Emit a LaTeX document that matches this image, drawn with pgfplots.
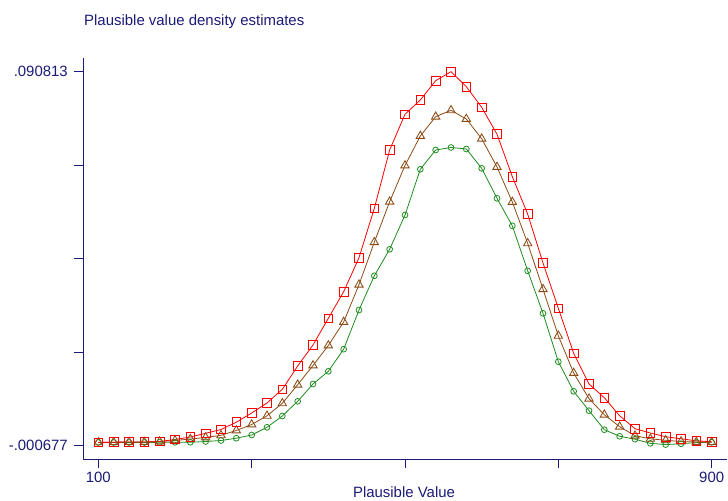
\documentclass[border=0pt]{standalone}
\usepackage{fontspec}
\setmainfont{Liberation Sans}
\usepackage{pgfplots}
\usepackage{pgfplotstable}
\pgfplotsset{compat=1.18}
\definecolor{navy}{RGB}{26,26,120}
\definecolor{pvred}{RGB}{255,0,0}
\definecolor{pvbrown}{RGB}{140,75,20}
\definecolor{pvgreen}{RGB}{30,140,30}

\pgfplotstableread{
x y
100 0.000057
120 0.000131
140 0.000180
160 0.000180
180 0.000302
200 0.000792
220 0.001403
240 0.002309
260 0.003239
280 0.005026
300 0.007278
320 0.009725
340 0.013079
360 0.018781
380 0.023921
400 0.030456
420 0.036967
440 0.045289
460 0.057380
480 0.071650
500 0.080388
520 0.083888
540 0.088612
560 0.090813
580 0.087143
600 0.082101
620 0.075517
640 0.065115
660 0.055985
680 0.043992
700 0.032904
720 0.021890
740 0.014376
760 0.011023
780 0.006592
800 0.003435
820 0.002383
840 0.001477
860 0.000963
880 0.000473
900 0.000253
}\redtable

\pgfplotstableread{
x y
100 0.000106
120 0.000131
140 0.000180
160 0.000180
180 0.000302
200 0.000547
220 0.000914
240 0.001281
260 0.001820
280 0.002994
300 0.004463
320 0.006592
340 0.009652
360 0.014205
380 0.018904
400 0.023799
420 0.029551
440 0.038680
460 0.049083
480 0.058995
500 0.067856
520 0.075076
540 0.079800
560 0.081367
580 0.079237
600 0.074416
620 0.067490
640 0.058922
660 0.048814
680 0.037579
700 0.026173
720 0.017068
740 0.010778
760 0.006862
780 0.003924
800 0.001722
820 0.000963
840 0.000596
860 0.000302
880 0.000180
900 0.000131
}\browntable

\pgfplotstableread{
x y
100 0.000057
120 0.000057
140 0.000057
160 0.000057
180 0.000106
200 0.000106
220 0.000106
240 0.000302
260 0.000547
280 0.001110
300 0.001893
320 0.003778
340 0.006543
360 0.010141
380 0.014376
400 0.017484
420 0.022893
440 0.032488
460 0.040858
480 0.047345
500 0.055740
520 0.066927
540 0.071650
560 0.072262
580 0.071895
600 0.067170
620 0.059827
640 0.053097
660 0.042082
680 0.031680
700 0.019834
720 0.012589
740 0.007841
760 0.003190
780 0.001575
800 0.000865
820 -0.000150
840 -0.000450
860 -0.000250
880 0.000050
900 0.000120
}\greentable

\begin{document}
\begin{tikzpicture}
\useasboundingbox (-83.3bp,-41.7bp) rectangle (644.7bp,459.3bp);
\begin{axis}[
  scale only axis,
  width=643.7bp, height=401.3bp,
  xmin=80.4, xmax=920,
  ymin=-0.004055, ymax=0.094166,
  axis lines*=left,
  axis line style={-, draw=navy, line width=0.9bp},
  xtick={100,300,500,700,900},
  xticklabels={100,,,,900},
  ytick={-0.000677,0.0221955,0.045068,0.0679405,0.090813},
  yticklabels={-.000677,,,,.090813},
  scaled y ticks=false, scaled x ticks=false,
  tick align=outside,
  major tick length=9bp,
  tick style={draw=navy, line width=0.9bp},
  ticklabel style={font=\fontsize{15}{17}\selectfont, text=navy},
  yticklabel style={xshift=-3bp},
  clip=false,
]
\addplot[pvgreen, line width=0.8bp, mark=o, mark size=2.9bp, mark options={solid, line width=0.8bp}] table {\greentable};
\addplot[pvbrown, line width=0.8bp, mark=triangle, mark size=4.8bp, mark options={solid, line width=0.85bp}] table {\browntable};
\addplot[pvred, line width=0.8bp, mark=square, mark size=4.3bp, mark options={solid, line width=0.85bp}] table {\redtable};
\end{axis}
\node[anchor=base west, text=navy, font=\fontsize{15}{18}\selectfont, inner sep=0pt] at (0.7bp,433.3bp) {Plausible value density estimates};
\node[anchor=base, text=navy, font=\fontsize{15}{18}\selectfont, inner sep=0pt] at (320.7bp,-37.7bp) {Plausible Value};
\end{tikzpicture}
\end{document}
